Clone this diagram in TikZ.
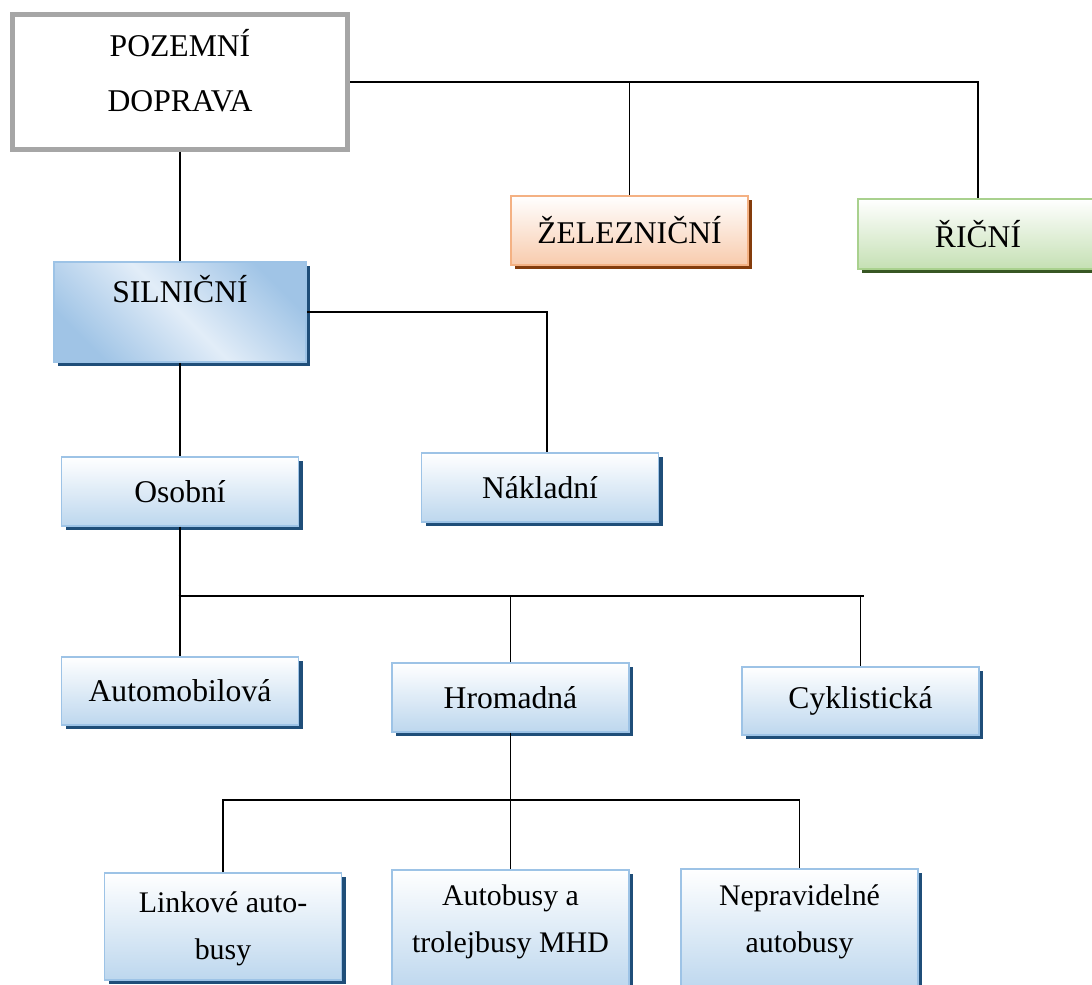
\documentclass[tikz,border=0pt]{standalone}
\usepackage{fontspec}
\setmainfont{Liberation Serif}
\usetikzlibrary{shadows}
\definecolor{boxblue}{RGB}{157,195,230}
\definecolor{fillblue}{RGB}{189,215,238}
\definecolor{silblue}{RGB}{160,196,230}
\definecolor{paleblue}{RGB}{226,237,248}
\definecolor{shadeblue}{RGB}{31,78,121}
\definecolor{boxorange}{RGB}{244,177,131}
\definecolor{fillorange}{RGB}{248,203,173}
\definecolor{shadeorange}{RGB}{132,60,12}
\definecolor{boxgreen}{RGB}{169,209,142}
\definecolor{fillgreen}{RGB}{197,224,180}
\definecolor{shadegreen}{RGB}{56,87,35}
\definecolor{rootgray}{RGB}{166,166,166}
\tikzstyle{root} = [rectangle, draw=rootgray, line width=0.1cm, fill=white, minimum width=6.7cm, align=center, inner ysep=0pt, text height=1.95cm, text depth=0.75cm, font=\fontsize{18}{31.3}\selectfont]
\tikzstyle{box} = [rectangle, line width=1.1pt, top color=white, minimum width=4.74cm, minimum height=1.37cm, text centered, font=\fontsize{18}{21}\selectfont]
\tikzstyle{railbox} = [box, draw=boxorange, bottom color=fillorange, minimum height=1.38cm, drop shadow={shadow xshift=0.08cm, shadow yshift=-0.08cm, fill=shadeorange, opacity=1}]
\tikzstyle{riverbox} = [box, draw=boxgreen, bottom color=fillgreen, minimum width=4.8cm, minimum height=1.4cm, drop shadow={shadow xshift=0.08cm, shadow yshift=-0.08cm, fill=shadegreen, opacity=1}]
\tikzstyle{roadbox} = [box, draw=boxblue, bottom color=fillblue, drop shadow={shadow xshift=0.08cm, shadow yshift=-0.08cm, fill=shadeblue, opacity=1}]
\tikzstyle{roadwide} = [roadbox, minimum width=5.04cm, inner ysep=0pt, text height=0.82cm, text depth=1.18cm, top color=silblue, bottom color=silblue, middle color=paleblue, shading angle=-45]
\tikzstyle{roadleaf} = [roadbox, align=center, inner ysep=0pt, font=\fontsize{17}{27.3}\selectfont]
\tikzstyle{line} = [line width=1.1pt, black]

\begin{document}
\begin{tikzpicture}[node distance=2cm]
    \useasboundingbox (0,0) rectangle (21.84,-19.70);

    \node (pd) [root] at (3.6,-1.64) {POZEMNÍ\\DOPRAVA};

    \node (zel) [railbox, below of=pd, xshift=8.99cm, yshift=-0.97cm] {ŽELEZNIČNÍ};
    \node (ric) [riverbox, below of=pd, xshift=15.96cm, yshift=-1.04cm] {ŘIČNÍ};
    \node (sil) [roadwide, below of=pd, yshift=-2.6cm] {SILNIČNÍ};

    \node (oso) [roadbox, below of=sil, yshift=-1.59cm] {Osobní};
    \node (nak) [roadbox, below of=sil, xshift=7.2cm, yshift=-1.51cm] {Nákladní};

    \node (aut) [roadbox, below of=oso, yshift=-1.99cm] {Automobilová};
    \node (hro) [roadbox, below of=oso, xshift=6.61cm, yshift=-2.12cm] {Hromadná};
    \node (cyk) [roadbox, below of=oso, xshift=13.61cm, yshift=-2.19cm] {Cyklistická};

    \node (lin) [roadleaf, below of=hro, xshift=-5.75cm, yshift=-2.58cm, text height=1.74cm, text depth=0.4cm] {Linkové auto-\\busy};
    \node (mhd) [roadleaf, below of=hro, yshift=-2.65cm, text height=1.66cm, text depth=0.74cm] {Autobusy a\\trolejbusy MHD};
    \node (nep) [roadleaf, below of=hro, xshift=5.78cm, yshift=-2.64cm, text height=1.68cm, text depth=0.74cm] {Nepravidelné\\autobusy};

    \coordinate (osjoint) at (3.57,-11.92);
    \coordinate (osend) at (17.28,-11.92);
    \coordinate (hrjoint) at (10.18,-16.0);

    \draw [line] (pd.east) -| (ric.north);
    \draw [line] (zel.north) -- (zel.north |- pd.east);
    \draw [line] (pd.south) -- (pd.south |- sil.north);

    \draw [line] (sil.east) -| ([xshift=0.14cm]nak.north);
    \draw [line] (sil.south) -- (oso.north);

    \draw [line] (oso.south) -- (aut.north);
    \draw [line] (osjoint) -- (osend);
    \draw [line] (hro.north) -- (hro.north |- osjoint);
    \draw [line] (cyk.north) -- (cyk.north |- osjoint);

    \draw [line] (hro.south) -- (mhd.north);
    \draw [line] (lin.north) |- (hrjoint) -| (nep.north);
\end{tikzpicture}
\end{document}
